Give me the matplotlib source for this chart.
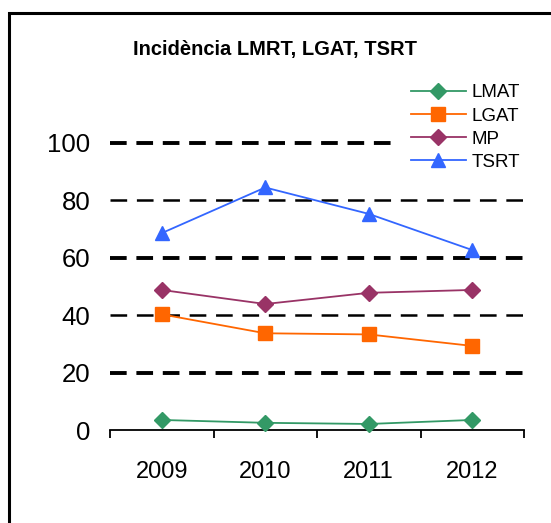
import matplotlib
matplotlib.use('Agg')
import matplotlib.pyplot as plt
from matplotlib.patches import Rectangle

# data
years = ['2009', '2010', '2011', '2012']
lmat = [3.5, 2.5, 2.1, 3.5]
lgat = [40.3, 33.7, 33.3, 29.3]
mp = [48.8, 43.9, 47.8, 48.8]
tsrt = [68.6, 84.5, 75.3, 62.7]
y_ticks = [0, 20, 40, 60, 80, 100]

plt.rcParams['font.family'] = ['Liberation Sans Narrow', 'Liberation Sans', 'DejaVu Sans']
plt.rcParams['lines.scale_dashes'] = False

W, H = 551, 523
fig = plt.figure(figsize=(W / 100, H / 100), dpi=100)
ax = fig.add_axes([110 / W, (H - 430) / H, (524 - 110) / W, (430 - 143) / H])

# outer frame (runs off right and bottom edge)
fig.patches.append(Rectangle((8.5 / W, -0.05), 1.2, 1 - 12.5 / H + 0.05, transform=fig.transFigure,
                             fill=False, edgecolor='k', linewidth=2.2))

# dashed gridlines, heavier on 20/60/100
for v in y_ticks[1:]:
    lw = 2.8 if v in (20, 60, 100) else 1.8
    ax.axhline(v, color='k', linewidth=lw, linestyle=(0, (12, 7)), zorder=1, clip_on=False)

x = list(range(1, len(years) + 1))
ax.plot(x, lmat, color='#339966', marker='D', markersize=8, linewidth=1.3, label='LMAT', clip_on=False, zorder=3)
ax.plot(x, lgat, color='#FF6600', marker='s', markersize=10, linewidth=1.3, label='LGAT', clip_on=False, zorder=3)
ax.plot(x, mp, color='#993366', marker='D', markersize=8, linewidth=1.3, label='MP', clip_on=False, zorder=3)
ax.plot(x, tsrt, color='#3366FF', marker='^', markersize=10, linewidth=1.3, label='TSRT', clip_on=False, zorder=3)

ax.set_xlim(0.5, len(years) + 0.5)
ax.set_ylim(0, 100)
ax.set_yticks(y_ticks)
ax.set_xticks(x)
ax.set_xticklabels(years)
ax.set_xticks([i + 0.5 for i in range(0, len(years) + 1)], minor=True)
ax.tick_params(axis='y', length=0, pad=14, labelsize=18.5)
ax.tick_params(axis='x', which='major', length=0, pad=22, labelsize=17)
ax.tick_params(axis='x', which='minor', length=6, width=1.3, direction='out')

for s in ['top', 'right', 'left']:
    ax.spines[s].set_visible(False)
ax.spines['bottom'].set_linewidth(1.3)

leg = ax.legend(loc='center left', bbox_to_anchor=(385 / W, 1 - 127.5 / H), bbox_transform=fig.transFigure,
                frameon=True, fontsize=13.5, handlelength=2.9, handletextpad=0.3, labelspacing=0.32,
                borderpad=0.9, fancybox=False)
leg.get_frame().set_edgecolor('none')
leg.get_frame().set_facecolor('white')
leg.get_frame().set_alpha(1)

fig.text(275 / W, 1 - 50 / H, 'Incidència LMRT, LGAT, TSRT', ha='center', va='center',
         fontsize=14.5, fontweight='bold')

fig.savefig('out.png', dpi=100)
